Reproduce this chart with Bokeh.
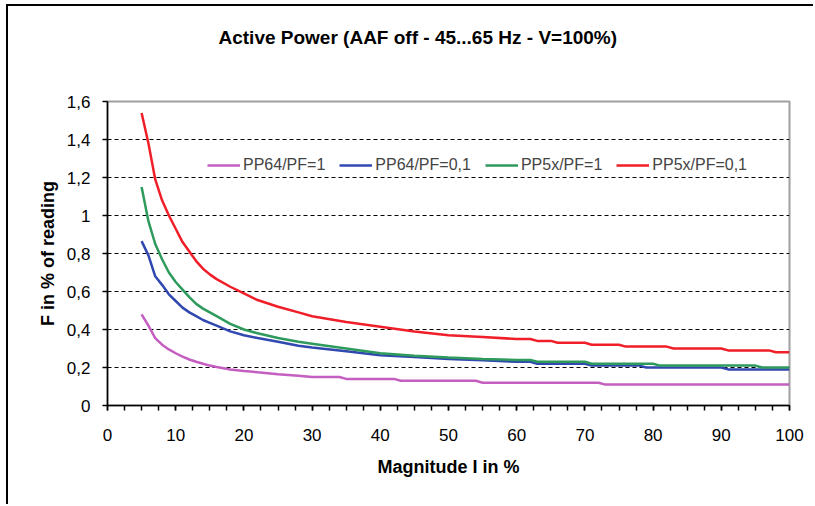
from bokeh.plotting import figure
from bokeh.models import Range1d, FixedTicker, CustomJSTickFormatter, Legend, LegendItem, Title
from bokeh.embed import file_html
from bokeh.resources import INLINE

# ---- data ----
x_purple = [5, 6, 7, 8, 9, 10, 11, 12, 13, 14, 15, 16, 18, 20, 22, 25, 28, 30, 34, 35, 42, 43, 54, 55, 72, 73, 100]
y_purple = [0.48, 0.42, 0.355, 0.32, 0.295, 0.275, 0.257, 0.242, 0.23, 0.22, 0.21, 0.203, 0.19, 0.182, 0.175,
            0.165, 0.157, 0.15, 0.15, 0.14, 0.14, 0.13, 0.13, 0.12, 0.12, 0.11, 0.11]

x_blue = [5, 6, 7, 8, 9, 10, 11, 12, 13, 14, 15, 16, 18, 20, 22, 25, 28, 30, 35, 40, 45, 50, 55, 60, 62, 63,
          70, 71, 78, 79, 90, 91, 100]
y_blue = [0.865, 0.79, 0.68, 0.635, 0.585, 0.55, 0.515, 0.49, 0.47, 0.45, 0.435, 0.42, 0.39, 0.37, 0.355, 0.335,
          0.315, 0.305, 0.285, 0.265, 0.255, 0.245, 0.238, 0.23, 0.23, 0.22, 0.22, 0.21, 0.21, 0.20, 0.20, 0.19, 0.19]

x_green = [5, 6, 7, 8, 9, 10, 11, 12, 13, 14, 15, 16, 18, 20, 22, 25, 28, 30, 35, 40, 45, 50, 55, 60, 62, 63,
           70, 71, 80, 81, 95, 96, 100]
y_green = [1.15, 0.97, 0.85, 0.77, 0.70, 0.65, 0.61, 0.57, 0.535, 0.51, 0.49, 0.47, 0.43, 0.40, 0.38, 0.355,
           0.335, 0.325, 0.30, 0.275, 0.262, 0.252, 0.245, 0.24, 0.24, 0.23, 0.23, 0.22, 0.22, 0.21, 0.21, 0.20, 0.20]

x_red = [5, 6, 7, 8, 9, 10, 11, 12, 13, 14, 15, 16, 18, 20, 22, 25, 28, 30, 35, 40, 45, 50, 55, 60, 62, 63,
         65, 66, 70, 71, 75, 76, 82, 83, 90, 91, 97, 98, 100]
y_red = [1.54, 1.38, 1.19, 1.08, 1.00, 0.93, 0.86, 0.81, 0.76, 0.72, 0.69, 0.665, 0.625, 0.59, 0.555, 0.52,
         0.49, 0.47, 0.44, 0.415, 0.39, 0.37, 0.36, 0.35, 0.35, 0.34, 0.34, 0.33, 0.33, 0.32, 0.32, 0.31, 0.31,
         0.30, 0.30, 0.29, 0.29, 0.28, 0.28]

series_names = ["PP64/PF=1", "PP64/PF=0,1", "PP5x/PF=1", "PP5x/PF=0,1"]
series_colors = ["#c45ec0", "#3048b0", "#2e9a5c", "#f01e28"]

x_major = [0, 10, 20, 30, 40, 50, 60, 70, 80, 90, 100]
x_minor = [i * 2.5 for i in range(41)]
y_major = [0, 0.2, 0.4, 0.6, 0.8, 1.0, 1.2, 1.4, 1.6]
y_grid = [0.2, 0.4, 0.6, 0.8, 1.0, 1.2, 1.4]

title_text = "Active Power (AAF off - 45...65 Hz - V=100%)"
x_title = "Magnitude I in %"
y_title = "F in % of reading"

FONT = "Liberation Sans"

p = figure(width=807, height=500, output_backend="svg", toolbar_location=None,
           x_range=Range1d(0, 100), y_range=Range1d(0, 1.6),
           min_border_left=99, min_border_right=26, min_border_top=95, min_border_bottom=101)
p.styles = {"margin-left": "6px", "margin-top": "4px",
            "border-left": "2px solid black", "border-top": "2px solid black"}
p.background_fill_color = "white"
p.border_fill_color = "white"
p.outline_line_color = "#a0a0a0"
p.outline_line_width = 2

p.xgrid.visible = False
p.ygrid.ticker = FixedTicker(ticks=y_grid)
p.ygrid.grid_line_color = "black"
p.ygrid.grid_line_dash = "4 3"
p.ygrid.grid_line_width = 1

# axes
p.xaxis.ticker = FixedTicker(ticks=x_major, minor_ticks=x_minor)
p.yaxis.ticker = FixedTicker(ticks=y_major)
p.yaxis.formatter = CustomJSTickFormatter(code="""
    const s = (Math.round(tick * 10) / 10).toString();
    return s.replace('.', ',');
""")
for ax in (p.xaxis, p.yaxis):
    ax.axis_line_color = "black"
    ax.axis_line_width = 1.5
    ax.major_tick_line_color = "black"
    ax.major_tick_line_width = 1.5
    ax.major_tick_in = 0
    ax.major_tick_out = 5
    ax.minor_tick_line_color = "black"
    ax.minor_tick_line_width = 1.5
    ax.minor_tick_in = 0
    ax.minor_tick_out = 5
    ax.major_label_text_font = FONT
    ax.major_label_text_font_size = "17px"
    ax.major_label_text_color = "black"
    ax.axis_label_text_font = FONT
    ax.axis_label_text_font_size = "18px"
    ax.axis_label_text_font_style = "bold"
    ax.axis_label_text_color = "black"
p.yaxis.minor_tick_line_color = None
p.xaxis.axis_label = x_title
p.yaxis.axis_label = y_title
p.xaxis.major_label_standoff = 18
p.xaxis.axis_label_standoff = 13
p.yaxis.major_label_standoff = 12
p.yaxis.axis_label_standoff = 6

xs = [x_purple, x_blue, x_green, x_red]
ys = [y_purple, y_blue, y_green, y_red]
items = []
for xv, yv, name, col in zip(xs, ys, series_names, series_colors):
    r = p.line(xv, yv, line_color=col, line_width=2.5)
    items.append(LegendItem(label=name, renderers=[r]))

legend = Legend(items=items, orientation="horizontal", location=(100, 231),
                padding=0, margin=0, spacing=14, glyph_width=33, glyph_height=16,
                label_standoff=3, label_text_font=FONT, label_text_font_size="16px",
                label_height=16, border_line_color=None, background_fill_alpha=0)
p.add_layout(legend)

# title: spacer panel next to the frame, then the title itself
p.title.text = ""
p.add_layout(Title(text=" ", text_font_size="10px", standoff=40), "above")
p.add_layout(Title(text=title_text, align="left", offset=111, vertical_align="middle", standoff=0,
                   text_font=FONT, text_font_size="19px", text_font_style="bold", text_color="black"),
             "above")

open("out.html", "w").write(file_html(p, INLINE))
